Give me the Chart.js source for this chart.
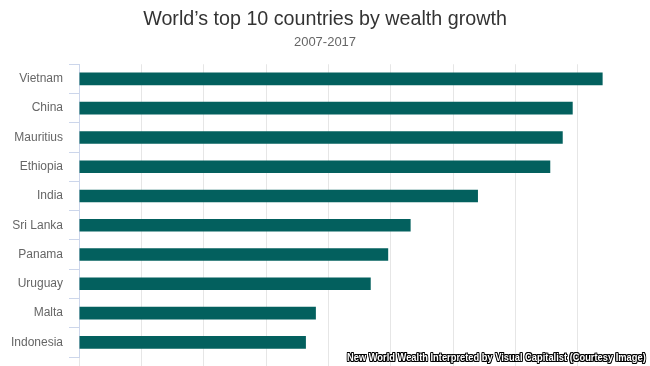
<!DOCTYPE html>
<html>
<head>
<meta charset="utf-8">
<script src="https://cdn.jsdelivr.net/npm/chart.js@4.4.0/dist/chart.umd.min.js"></script>
<style>
  body { margin: 0; background: #fff; }
  #wrap { position: relative; width: 650px; height: 366px; }
  #credit {
    position: absolute; left: 347px; top: 351px;
    font: bold 11px "Liberation Sans", Arial, sans-serif;
    color: #fff; white-space: nowrap;
    transform-origin: left top;
    text-shadow: -1px -1px 0 #000, 1px -1px 0 #000, -1px 1px 0 #000, 1px 1px 0 #000,
                 0 1px 0 #000, 0 -1px 0 #000, 1px 0 0 #000, -1px 0 0 #000;
  }
</style>
</head>
<body>
<div id="wrap">
  <canvas id="wealth_growth"></canvas>
  <div id="credit">New World Wealth Interpreted by Visual Capitalist (Courtesy Image)</div>
</div>
<script>
const countries = ['Vietnam', 'China', 'Mauritius', 'Ethiopia', 'India', 'Sri Lanka', 'Panama', 'Uruguay', 'Malta', 'Indonesia'];
// wealth growth 2007-2017, %
const growth = [210, 198, 194, 189, 160, 133, 124, 117, 95, 91];

const ctx = document.getElementById('wealth_growth');
const font = '"Liberation Sans", Arial, Helvetica, sans-serif';

new Chart(ctx, {
  type: 'bar',
  data: {
    labels: countries,
    datasets: [
      {
        label: 'Wealth growth',
        data: growth,
        backgroundColor: '#03605e',
        borderWidth: 0,
        barPercentage: 0.43,
        categoryPercentage: 1
      }
    ]
  },
  options: {
    indexAxis: 'y',
    responsive: true,
    maintainAspectRatio: false,
    animation: false,
    layout: { padding: 0 },
    plugins: {
      legend: { display: false },
      tooltip: { enabled: false },
      title: {
        display: true,
        text: 'World\u2019s top 10 countries by wealth growth',
        color: '#333333',
        font: { family: font, size: 19.7, weight: 'normal' },
        padding: { top: 8, bottom: 0 }
      },
      subtitle: {
        display: true,
        text: '2007-2017',
        color: '#666666',
        font: { family: font, size: 13, weight: 'normal' },
        padding: { top: 3, bottom: 14 }
      }
    },
    scales: {
      x: {
        min: 0,
        max: 229,   // leaves ~10px blank after the last gridline (225)
        ticks: { stepSize: 25, display: false },
        grid: { color: '#e6e6e6', tickLength: 10 },
        border: { display: false },
        afterBuildTicks: scale => {
          scale.ticks = scale.ticks.filter(t => t.value % 25 === 0);
        },
        afterFit: scale => { scale.height = 9; }
      },
      y: {
        ticks: { color: '#666666', font: { family: font, size: 12 }, padding: 6 },
        grid: { drawOnChartArea: false, color: '#ccd6eb', tickLength: 10 },
        border: { display: true, color: '#ccd6eb' },
        afterFit: scale => {
          scale.width = 79;
          scale.paddingTop = 0;
          scale.paddingBottom = 0;
        }
      }
    }
  }
});

const credit = document.getElementById('credit');
credit.style.transform = 'scaleX(' + (299 / credit.offsetWidth) + ')';
</script>
</body>
</html>
